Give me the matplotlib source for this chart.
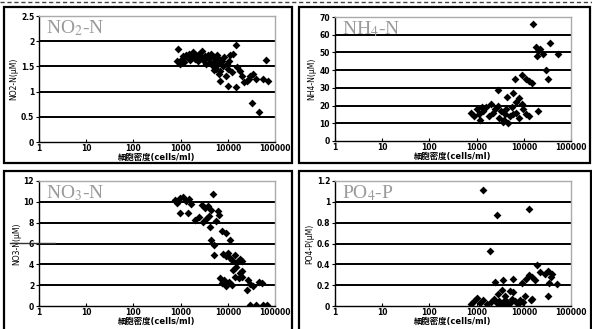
import matplotlib
matplotlib.use("Agg")
import matplotlib.pyplot as plt
from matplotlib.patches import Rectangle
from matplotlib.lines import Line2D

plt.rcParams['font.family'] = ['DejaVu Sans', 'Noto Sans CJK JP']

xlabel = "細胞密度(cells/ml)"
xticks = [1, 10, 100, 1000, 10000, 100000]
xticklabels = ["1", "10", "100", "1000", "10000", "100000"]

# Panel 1: NO2-N
no2_x = [850, 900, 950, 1000, 1100, 1150, 1200, 1300, 1400, 1500, 1600, 1700, 1800, 2000,
         2100, 2300, 2500, 2700, 2900, 3000, 3300, 3500, 3800, 4000, 4300, 4500, 4800, 5000,
         5300, 5600, 6000, 6300, 6600, 7000, 7500, 8000, 8500, 9000, 9500, 10000, 10500, 11000,
         7000, 10000, 12000, 13000, 15000, 15000, 16000, 18000, 20000, 22000, 25000, 28000,
         30000, 35000, 32000, 45000, 40000, 55000, 65000, 70000, 5000, 6500]
no2_y = [1.6, 1.85, 1.55, 1.62, 1.65, 1.7, 1.58, 1.72, 1.68, 1.75, 1.62, 1.7, 1.78, 1.65,
         1.72, 1.6, 1.75, 1.68, 1.8, 1.62, 1.7, 1.55, 1.72, 1.65, 1.58, 1.75, 1.5, 1.68,
         1.6, 1.45, 1.72, 1.55, 1.65, 1.4, 1.6, 1.5, 1.68, 1.3, 1.55, 1.45, 1.6, 1.72,
         1.22, 1.12, 1.38, 1.75, 1.93, 1.1, 1.48, 1.4, 1.3, 1.2, 1.22, 1.25,
         1.3, 1.35, 0.78, 0.6, 1.25, 1.25, 1.62, 1.22, 1.42, 1.35]

# Panel 2: NH4-N
nh4_x = [15400, 36000, 54000, 18000, 20000, 22000, 25000, 19000, 29000, 32000,
         6500, 9000, 11000, 13000, 15000, 2800, 4500, 6000, 7000, 8000, 9000, 20000,
         750, 900, 1000, 1100, 1200, 1400, 1600, 1800, 2000, 2200, 2500, 2800, 3000,
         3300, 3600, 4000, 4300, 4600, 5000, 5500, 6000, 7000, 8000, 9500, 11000, 13000, 3800, 1300]
nh4_y = [66, 55.5, 49, 53, 51, 52, 49, 48, 40, 35,
         35, 37, 35, 34, 33, 28.7, 25, 27, 22, 24, 21, 17,
         16, 14, 18, 15, 12, 17, 19, 14, 21, 16, 18, 20, 13,
         17, 11, 15, 18, 10, 14, 19, 15, 16, 13, 18, 15, 14, 12, 19]

# Panel 3: NO3-N
no3_x = [4900, 750, 850, 950, 1100, 1300, 1500, 1700, 950, 1450, 2800, 3300, 3800, 4500,
         2000, 2500, 3000, 3500, 4000, 6300, 4200, 5600, 6500, 7500, 9300, 11200, 4500,
         5100, 5200, 8000, 9000, 10000, 11000, 12500, 14000, 16000, 18000, 20000,
         13000, 15000, 18000, 20000, 6800, 7500, 8500, 9000, 10500, 12000, 14000,
         17000, 20000, 27000, 30000, 35000, 45000, 52000, 26000, 30000, 40000, 55000, 68000]
no3_y = [10.75, 10.2, 9.9, 10.4, 10.5, 10.1, 10.3, 9.8, 8.9, 8.9, 9.7, 9.4, 9.6, 9.2,
         8.3, 8.5, 8.1, 8.4, 8.6, 9.1, 7.6, 8.2, 8.7, 7.2, 7.0, 6.35, 6.35,
         5.85, 4.9, 5.0, 4.8, 5.1, 4.6, 4.4, 4.9, 4.2, 4.5, 4.3,
         3.5, 3.7, 3.2, 3.4, 2.7, 2.2, 2.5, 1.9, 2.3, 2.0, 2.8,
         2.7, 2.75, 2.5, 2.1, 1.9, 2.3, 2.2, 1.55, 0.1, 0.1, 0.1, 0.1]

# Panel 4: PO4-P
po4_x = [1350, 12600, 2750, 1900, 19500, 32000, 37000, 40000, 50000,
         9000, 11000, 13000, 15000, 17000, 6000, 3700, 2450, 22000, 28000, 35000,
         2800, 3500, 4000, 5000, 6000, 10500, 14000, 14800, 33000,
         750, 900, 1000, 1200, 1400, 1700, 2000, 2300, 2700, 3000, 3500, 4000,
         4500, 5000, 5500, 6500, 7500, 8500, 9500, 4200, 3200]
po4_y = [1.11, 0.93, 0.87, 0.53, 0.39, 0.34, 0.28, 0.31, 0.21,
         0.22, 0.26, 0.3, 0.28, 0.25, 0.26, 0.25, 0.23, 0.33, 0.31, 0.22,
         0.12, 0.15, 0.1, 0.14, 0.13, 0.1, 0.06, 0.07, 0.1,
         0.02, 0.05, 0.08, 0.03, 0.06, 0.02, 0.04, 0.07, 0.03, 0.05, 0.02, 0.06,
         0.04, 0.03, 0.07, 0.05, 0.02, 0.06, 0.04, 0.0, 0.01]

panels = [
    dict(x=no2_x, y=no2_y, title="NO$_2$-N", ylabel="NO2-N(μM)", ymax=2.5,
         yticks=[0, 0.5, 1, 1.5, 2, 2.5], ytl=["0", "0.5", "1", "1.5", "2", "2.5"]),
    dict(x=nh4_x, y=nh4_y, title="NH$_4$-N", ylabel="NH4-N(μM)", ymax=70,
         yticks=[0, 10, 20, 30, 40, 50, 60, 70], ytl=["0", "10", "20", "30", "40", "50", "60", "70"]),
    dict(x=no3_x, y=no3_y, title="NO$_3$-N", ylabel="NO3-N(μM)", ymax=12,
         yticks=[0, 2, 4, 6, 8, 10, 12], ytl=["0", "2", "4", "6", "8", "10", "12"]),
    dict(x=po4_x, y=po4_y, title="PO$_4$-P", ylabel="PO4-P(μM)", ymax=1.2,
         yticks=[0, 0.2, 0.4, 0.6, 0.8, 1, 1.2], ytl=["0", "0.2", "0.4", "0.6", "0.8", "1", "1.2"]),
]

W, H = 592, 329
fig = plt.figure(figsize=(W / 100, H / 100), dpi=100)
fig.patch.set_facecolor("white")

# axes boxes in pixel coords (left, top, right, bottom)
boxes = [(39, 16, 275, 142), (335, 17, 571, 141), (39, 181, 275, 306), (335, 181, 571, 306)]
frames = [(4, 7, 292, 163), (299, 7, 590, 163), (4, 171, 292, 332), (299, 171, 591, 332)]

for fr in frames:
    l, t, r, b = fr
    fig.patches.append(Rectangle((l / W, 1 - b / H), (r - l) / W, (b - t) / H,
                                 transform=fig.transFigure, fill=False,
                                 edgecolor="black", linewidth=1.6))

# dashed top border
fig.lines.append(Line2D([0, 1], [1 - 1.5 / H, 1 - 1.5 / H], transform=fig.transFigure,
                        color="#444444", linewidth=1.0, linestyle=(0, (3, 2))))
# stray short line left of NO3 panel
fig.lines.append(Line2D([10 / W, 55 / W], [1 - 242.5 / H, 1 - 242.5 / H],
                        transform=fig.transFigure, color="#333333", linewidth=1.0))

for p, bx in zip(panels, boxes):
    l, t, r, b = bx
    ax = fig.add_axes([l / W, 1 - b / H, (r - l) / W, (b - t) / H])
    ax.set_xscale("log")
    ax.set_xlim(1, 100000)
    ax.set_ylim(0, p["ymax"])
    for yv in p["yticks"][1:-1]:
        ax.axhline(yv, color="black", linewidth=1.4, zorder=1)
    ax.scatter(p["x"], p["y"], marker="D", s=16, color="black", zorder=3, linewidths=0)
    ax.set_xticks(xticks)
    ax.set_xticklabels(xticklabels)
    ax.xaxis.set_minor_locator(matplotlib.ticker.NullLocator())
    ax.set_yticks(p["yticks"])
    ax.set_yticklabels(p["ytl"])
    ax.tick_params(axis="both", labelsize=5.5, length=2, width=0.8, pad=1.5)
    ax.tick_params(axis="x", direction="in", pad=1.5)
    for lab in ax.get_xticklabels() + ax.get_yticklabels():
        lab.set_fontweight("bold")
    for s in ["top", "right"]:
        ax.spines[s].set_color("#aaaaaa")
        ax.spines[s].set_linewidth(1.0)
    for s in ["left", "bottom"]:
        ax.spines[s].set_color("black")
        ax.spines[s].set_linewidth(1.0)
    ax.set_xlabel(xlabel, fontsize=6, fontweight="bold", labelpad=0)
    ax.set_ylabel(p["ylabel"], fontsize=5.5, labelpad=2)
    ax.text(0.03, 0.98, p["title"], transform=ax.transAxes, ha="left", va="top",
            fontsize=14, color="#9a9a9a", family="Liberation Serif",
            math_fontfamily="stix")

fig.savefig("out.png", dpi=100)
